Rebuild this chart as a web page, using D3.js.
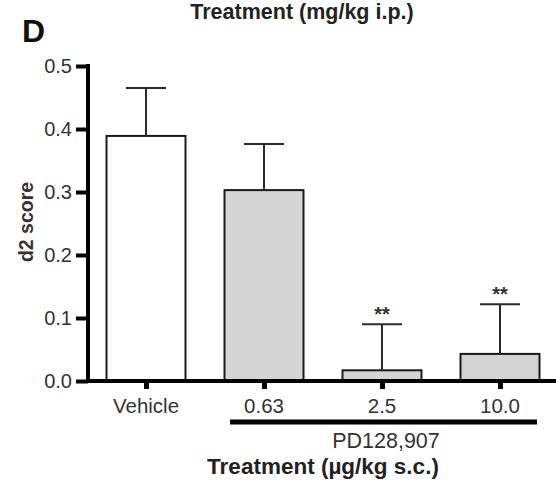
<!DOCTYPE html>
<html><head><meta charset="utf-8">
<script src="https://cdn.jsdelivr.net/npm/d3@7"></script>
<style>body{margin:0;background:#fff}svg{display:block}text{font-family:"Liberation Sans",Arial,sans-serif}</style>
</head><body>
<svg id="c" width="556" height="483"></svg>
<script>
const categories = ["Vehicle", "0.63", "2.5", "10.0"];
const means = [0.389, 0.303, 0.017, 0.043];
const sems = [0.076, 0.073, 0.073, 0.079];
const fills = ["#ffffff", "#d4d4d4", "#d4d4d4", "#d4d4d4"];
const stars = ["", "", "**", "**"];
const yTicks = [0.0, 0.1, 0.2, 0.3, 0.4, 0.5];

const svg = d3.select("#c");
const x = d3.scalePoint().domain(categories).range([87, 559]).padding(0.5);
const y = d3.scaleLinear().domain([0, 0.5]).range([381, 66]);
const barW = 79;
const ink = "#1a1a1a";

// bars
svg.selectAll("rect.bar").data(categories).join("rect")
  .attr("x", d => x(d) - barW / 2)
  .attr("y", (d, i) => y(means[i]))
  .attr("width", barW)
  .attr("height", (d, i) => y(0) - y(means[i]))
  .attr("fill", (d, i) => fills[i])
  .attr("stroke", ink).attr("stroke-width", 2);

// error bars
const eb = svg.append("g").attr("stroke", "#2a2a2a").attr("stroke-width", 2);
categories.forEach((c, i) => {
  const cx = x(c);
  eb.append("line").attr("x1", cx).attr("x2", cx).attr("y1", y(means[i])).attr("y2", y(means[i] + sems[i]));
  eb.append("line").attr("x1", cx - 20).attr("x2", cx + 20).attr("y1", y(means[i] + sems[i])).attr("y2", y(means[i] + sems[i]));
  if (stars[i]) svg.append("text").attr("x", cx).attr("y", y(means[i] + sems[i]) - 3)
    .attr("text-anchor", "middle").attr("font-size", 20).attr("font-weight", "bold").attr("fill", "#333").text(stars[i]);
});

// y axis
const yAxis = d3.axisLeft(y).tickValues(yTicks).tickFormat(d3.format(".1f")).tickSize(12).tickPadding(4);
const ga = svg.append("g").attr("transform", "translate(88,0)").call(yAxis);
ga.select(".domain").remove();
ga.selectAll(".tick line").attr("stroke", "#000").attr("stroke-width", 4);
ga.selectAll(".tick text").attr("font-size", 20).attr("fill", "#333").attr("font-family", "Liberation Sans, Arial, sans-serif");
svg.append("line").attr("x1", 88).attr("x2", 88).attr("y1", y(0.5) - 2).attr("y2", y(0) + 2).attr("stroke", "#000").attr("stroke-width", 4);

// x axis
const xAxis = d3.axisBottom(x).tickSize(8).tickFormat("").tickSizeOuter(0);
const gx = svg.append("g").attr("transform", `translate(0,${y(0)})`).call(xAxis);
gx.select(".domain").remove();
gx.selectAll(".tick line").attr("stroke", "#000").attr("stroke-width", 5);
svg.append("line").attr("x1", 86).attr("x2", 556).attr("y1", y(0)).attr("y2", y(0)).attr("stroke", "#000").attr("stroke-width", 4);
svg.selectAll("text.xl").data(categories).join("text")
  .attr("x", d => x(d)).attr("y", 413).attr("text-anchor", "middle")
  .attr("font-size", 20.5).attr("fill", "#333").text(d => d);

// group line
svg.append("line").attr("x1", 230).attr("x2", 537).attr("y1", 422).attr("y2", 422).attr("stroke", "#000").attr("stroke-width", 5);
svg.append("text").attr("x", 386).attr("y", 448).attr("text-anchor", "middle").attr("font-size", 21.5).attr("fill", "#333").text("PD128,907");
svg.append("text").attr("x", 323).attr("y", 474).attr("text-anchor", "middle").attr("font-size", 22.5).attr("font-weight", "bold").attr("fill", "#222").text("Treatment (µg/kg s.c.)");

// titles
svg.append("text").attr("x", 302).attr("y", 19).attr("text-anchor", "middle").attr("font-size", 21.5).attr("font-weight", "bold").attr("fill", "#222").text("Treatment (mg/kg i.p.)");
svg.append("text").attr("x", 22).attr("y", 42).attr("font-size", 32).attr("font-weight", "bold").attr("fill", "#111").text("D");
svg.append("text").attr("transform", "translate(33,222) rotate(-90)").attr("text-anchor", "middle").attr("font-size", 19.5).attr("font-weight", "bold").attr("fill", "#333").text("d2 score");
</script>
</body></html>
